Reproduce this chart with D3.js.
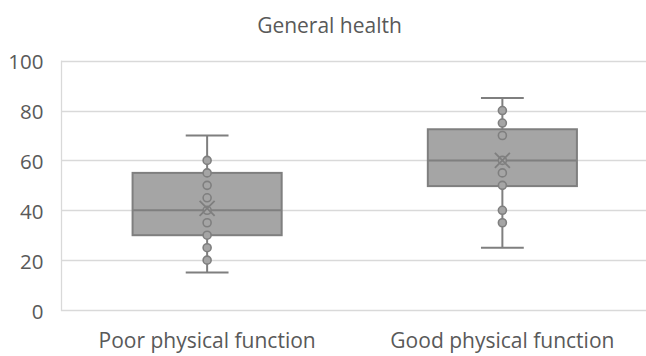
<!DOCTYPE html>
<html>
<head>
<meta charset="utf-8">
<script src="https://cdn.jsdelivr.net/npm/d3@7"></script>
<style>
  html, body { margin: 0; padding: 0; background: #fff; }
  svg { display: block; font-family: "Open Sans", sans-serif; }
</style>
</head>
<body>
<svg id="chart" width="646" height="356"></svg>
<script>
// ---- data ----
const title = "General health";
const categories = ["Poor physical function", "Good physical function"];
const whiskerLow  = [15, 25];
const q1          = [30, 49.7];
const median      = [40, 60];
const q3          = [55, 72.5];
const whiskerHigh = [70, 85];
const mean        = [40.8, 60];
const pointsPoor  = [20, 25, 30, 35, 40, 45, 50, 55, 60];
const pointsGood  = [35, 40, 50, 55, 60, 70, 75, 80];
const yTicks      = [0, 20, 40, 60, 80, 100];

const points = [pointsPoor, pointsGood];

// ---- layout ----
const svg = d3.select("#chart");
const W = 646, H = 356;
const plot = { left: 61, right: 650, top: 60.7, bottom: 310 };

const x = d3.scaleBand().domain(categories).range([plot.left - 1.5, plot.right]).paddingInner(0).paddingOuter(0);
const y = d3.scaleLinear().domain([0, 100]).range([plot.bottom, plot.top]);

const textColor = "#595959";
const gridColor = "#d9d9d9";
const boxFill = "#a5a5a5";
const boxStroke = "#7f7f7f";

// gridlines
svg.append("g")
  .selectAll("line")
  .data(yTicks)
  .join("line")
  .attr("x1", plot.left)
  .attr("x2", W)
  .attr("y1", d => Math.round(y(d)) + 0.5)
  .attr("y2", d => Math.round(y(d)) + 0.5)
  .attr("stroke", gridColor)
  .attr("stroke-width", 1.3);

// left axis line
svg.append("line")
  .attr("x1", plot.left + 0.5).attr("x2", plot.left + 0.5)
  .attr("y1", y(100)).attr("y2", y(0) + 1)
  .attr("stroke", gridColor).attr("stroke-width", 1.3);

// y axis labels
const yAxis = d3.axisLeft(y).tickValues(yTicks).tickSize(0).tickPadding(0);
const yg = svg.append("g").attr("transform", `translate(${43.5},1.5)`).call(yAxis);
yg.select(".domain").remove();
yg.selectAll("text")
  .attr("fill", textColor)
  .style("font-size", "20.5px")
  .style("font-family", "'Open Sans', sans-serif");

// x axis labels
const xAxis = d3.axisBottom(x).tickSize(0).tickPadding(0);
const xg = svg.append("g").attr("transform", `translate(0,${plot.bottom + 23})`).call(xAxis);
xg.select(".domain").remove();
xg.selectAll("text")
  .attr("fill", textColor)
  .style("font-size", "21px")
  .style("font-family", "'Open Sans', sans-serif");

// title
svg.append("text")
  .attr("x", 329.5)
  .attr("y", 33)
  .attr("text-anchor", "middle")
  .attr("fill", textColor)
  .style("font-size", "21px")
  .text(title);

// boxes
const bw = x.bandwidth();
const boxW = bw * 0.505;
const capW = bw * 0.145;

categories.forEach((c, i) => {
  const cx = x(c) + bw / 2;
  const g = svg.append("g");
  // whiskers
  g.append("line").attr("x1", cx).attr("x2", cx).attr("y1", y(q3[i])).attr("y2", y(whiskerHigh[i]))
    .attr("stroke", boxStroke).attr("stroke-width", 2);
  g.append("line").attr("x1", cx).attr("x2", cx).attr("y1", y(q1[i])).attr("y2", y(whiskerLow[i]))
    .attr("stroke", boxStroke).attr("stroke-width", 2);
  g.append("line").attr("x1", cx - capW / 2).attr("x2", cx + capW / 2).attr("y1", y(whiskerHigh[i])).attr("y2", y(whiskerHigh[i]))
    .attr("stroke", boxStroke).attr("stroke-width", 2);
  g.append("line").attr("x1", cx - capW / 2).attr("x2", cx + capW / 2).attr("y1", y(whiskerLow[i])).attr("y2", y(whiskerLow[i]))
    .attr("stroke", boxStroke).attr("stroke-width", 2);
  // box
  g.append("rect")
    .attr("x", cx - boxW / 2).attr("width", boxW)
    .attr("y", y(q3[i])).attr("height", y(q1[i]) - y(q3[i]))
    .attr("fill", boxFill).attr("stroke", boxStroke).attr("stroke-width", 2);
  // median
  g.append("line").attr("x1", cx - boxW / 2).attr("x2", cx + boxW / 2).attr("y1", y(median[i])).attr("y2", y(median[i]))
    .attr("stroke", boxStroke).attr("stroke-width", 2);
  // points
  g.selectAll("circle").data(points[i]).join("circle")
    .attr("cx", cx).attr("cy", d => y(d)).attr("r", 4)
    .attr("fill", boxFill).attr("stroke", boxStroke).attr("stroke-width", 1.6);
  // mean X
  const m = y(mean[i]), s = 7.5;
  g.append("path")
    .attr("d", `M${cx - s},${m - s}L${cx + s},${m + s}M${cx - s},${m + s}L${cx + s},${m - s}`)
    .attr("stroke", boxStroke).attr("stroke-width", 1.8).attr("fill", "none");
});
</script>
</body>
</html>
